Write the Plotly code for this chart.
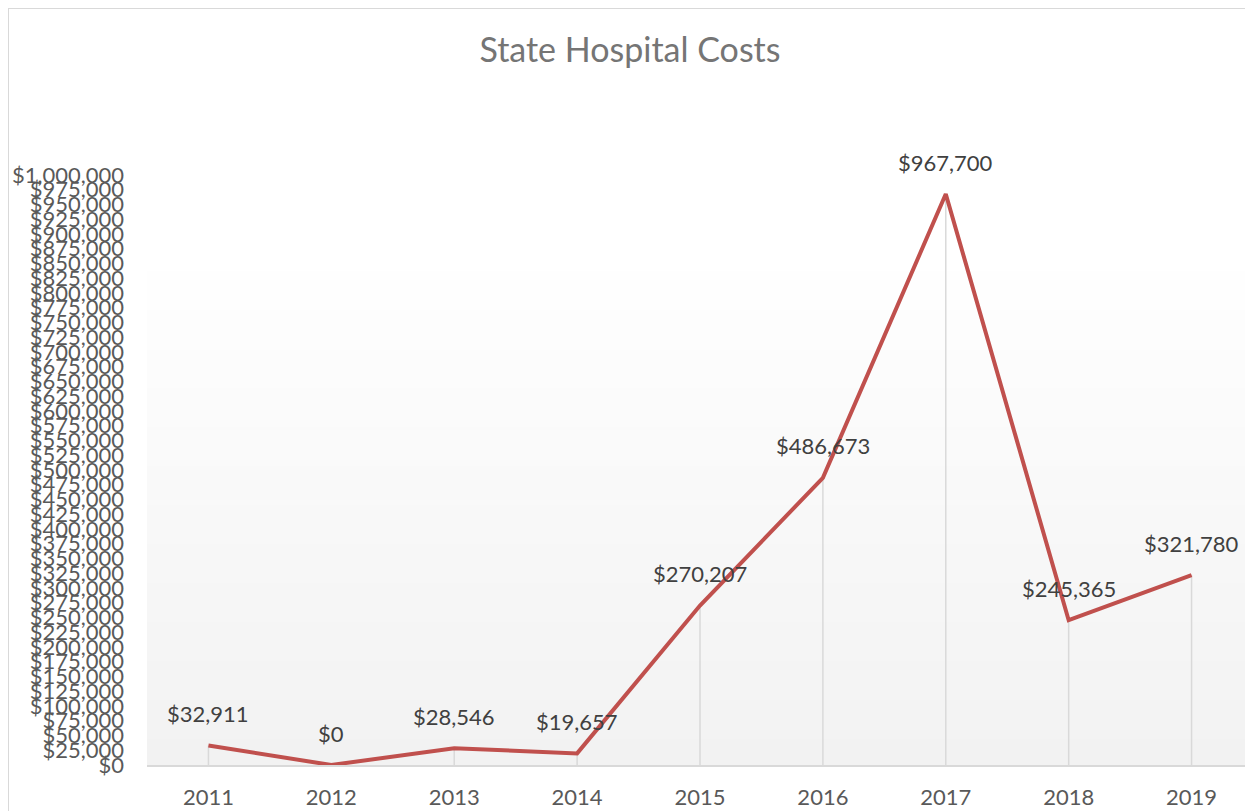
import plotly.graph_objects as go

years = ["2011", "2012", "2013", "2014", "2015", "2016", "2017", "2018", "2019"]
costs = [32911, 0, 28546, 19657, 270207, 486673, 967700, 245365, 321780]
labels = ["$32,911", "$0", "$28,546", "$19,657", "$270,207", "$486,673", "$967,700", "$245,365", "$321,780"]

FONT = "Lato"
W, H = 1245, 803          # page body has an 8px margin
L, T, B = 139, 167, 46
PW, PH = W - L, H - T - B

fig = go.Figure()

# drop lines from each point down to the axis
fig.add_trace(go.Scatter(
    x=years, y=costs, mode="markers", marker=dict(size=0.1, color="rgba(0,0,0,0)"),
    error_y=dict(type="data", symmetric=False, array=[0] * len(costs), arrayminus=costs,
                 color="#D9D9D9", thickness=1.5, width=0),
    hoverinfo="skip", showlegend=False,
))
fig.add_trace(go.Scatter(
    x=years, y=costs, mode="lines", line=dict(color="#C0504D", width=4),
    showlegend=False,
))

for i, (v, lab) in enumerate(zip(costs, labels)):
    fig.add_annotation(x=i, y=v, text=lab, showarrow=False, yanchor="middle", yshift=32,
                       font=dict(family=FONT, size=22, color="#404040"))

# soft vertical gradient in the plot area
n = 40
top = 0.881
shapes = []
for i in range(n):
    t = i / (n - 1)
    c = int(round(242 + (255 - 242) * t))
    shapes.append(dict(type="rect", xref="x domain", yref="y domain", x0=0, x1=1,
                       y0=top * i / n, y1=top * (i + 1) / n + 0.002,
                       fillcolor=f"rgb({c},{c},{c})", line=dict(width=0), layer="below"))
# chart border (left and top visible)
bx = (0 - L) / PW
by = (H - B - 0) / PH
shapes.append(dict(type="line", xref="paper", yref="paper", x0=bx, x1=bx, y0=-0.2, y1=by,
                   line=dict(color="#D9D9D9", width=2)))
shapes.append(dict(type="line", xref="paper", yref="paper", x0=bx, x1=1.1, y0=by, y1=by,
                   line=dict(color="#D9D9D9", width=2)))

fig.update_layout(
    width=W, height=H,
    margin=dict(l=L, r=0, t=T, b=B),
    paper_bgcolor="white", plot_bgcolor="white",
    shapes=shapes,
    title=dict(text="State Hospital Costs", x=622 / W, xref="container", xanchor="center",
               y=1 - 42 / H, yref="container", yanchor="middle",
               font=dict(family=FONT, size=34, color="#757575")),
    xaxis=dict(type="category", range=[-0.5, len(years) - 0.5], showgrid=False, showline=True,
               linecolor="#D9D9D9", linewidth=1.5,
               tickfont=dict(family=FONT, size=22, color="#595959"), ticks="", ticklabelstandoff=12),
    yaxis=dict(range=[0, 1000000], dtick=25000, tickformat="$,.0f", showgrid=False, zeroline=False,
               showline=False, tickfont=dict(family=FONT, size=22, color="#595959"),
               ticks="", ticklabelstandoff=22),
    font=dict(family=FONT),
)

fig.write_html("out.html")
